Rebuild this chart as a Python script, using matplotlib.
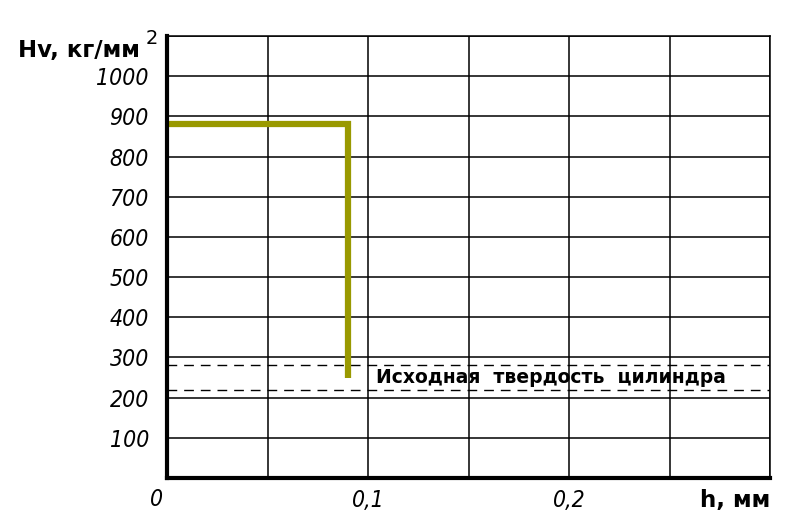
import matplotlib.pyplot as plt
import numpy as np

# data
depth = [0.0, 0.09, 0.09]          # h, mm
hardness = [880, 880, 250]         # Hv, kg/mm2
base_low, base_high = 218, 282     # initial cylinder hardness band

y_ticks = np.arange(0, 1101, 100)
y_labels = ["" if v in (0, 1100) else str(v) for v in y_ticks]
x_ticks = np.arange(0, 0.301, 0.05)
x_labels = ["", "", "0,1", "", "0,2", "", ""]

tick_font = dict(family="DejaVu Sans", stretch="condensed", style="italic", size=16.5)
title_font = dict(family="DejaVu Sans", fontweight="bold", fontsize=16.5)

fig = plt.figure(figsize=(8.08, 5.31), dpi=100)
ax = fig.add_axes([0.2067, 0.0998, 0.7463, 0.8324])

ax.set_xlim(0, 0.3)
ax.set_ylim(0, 1100)
ax.set_yticks(y_ticks)
ax.set_yticklabels(y_labels, **tick_font)
ax.set_xticks(x_ticks)
ax.set_xticklabels(x_labels, **tick_font)
ax.tick_params(axis="y", length=0, pad=13)
ax.tick_params(axis="x", length=0, pad=8)
ax.grid(True, color="black", lw=1.1)
ax.set_axisbelow(True)

for s in ["top", "right"]:
    ax.spines[s].set_linewidth(1.1)
for s in ["left", "bottom"]:
    ax.spines[s].set_linewidth(3)

# initial hardness band
for v in (base_low, base_high):
    ax.axhline(v, color="black", lw=1, ls=(0, (7, 5)))

ax.plot(depth, hardness, color="#999900", lw=4.5, solid_capstyle="butt", solid_joinstyle="miter")

ax.text(0.191, 250, "Исходная  твердость  цилиндра", ha="center", va="center",
        fontsize=13.5, fontweight="bold", family="DejaVu Sans")

# axis titles
fig.text(157 / 808, 1 - 500 / 531, "0", ha="center", va="center", **tick_font)
fig.text(770 / 808, 1 - 500 / 531, "h, мм", ha="right", va="center", **title_font)
fig.text(18 / 808, 1 - 50 / 531, "Hv, кг/мм", ha="left", va="center", **title_font)
fig.text(146 / 808, 1 - 38 / 531, "2", ha="left", va="center", family="DejaVu Sans", fontsize=14)

fig.savefig("out.png", dpi=100)
